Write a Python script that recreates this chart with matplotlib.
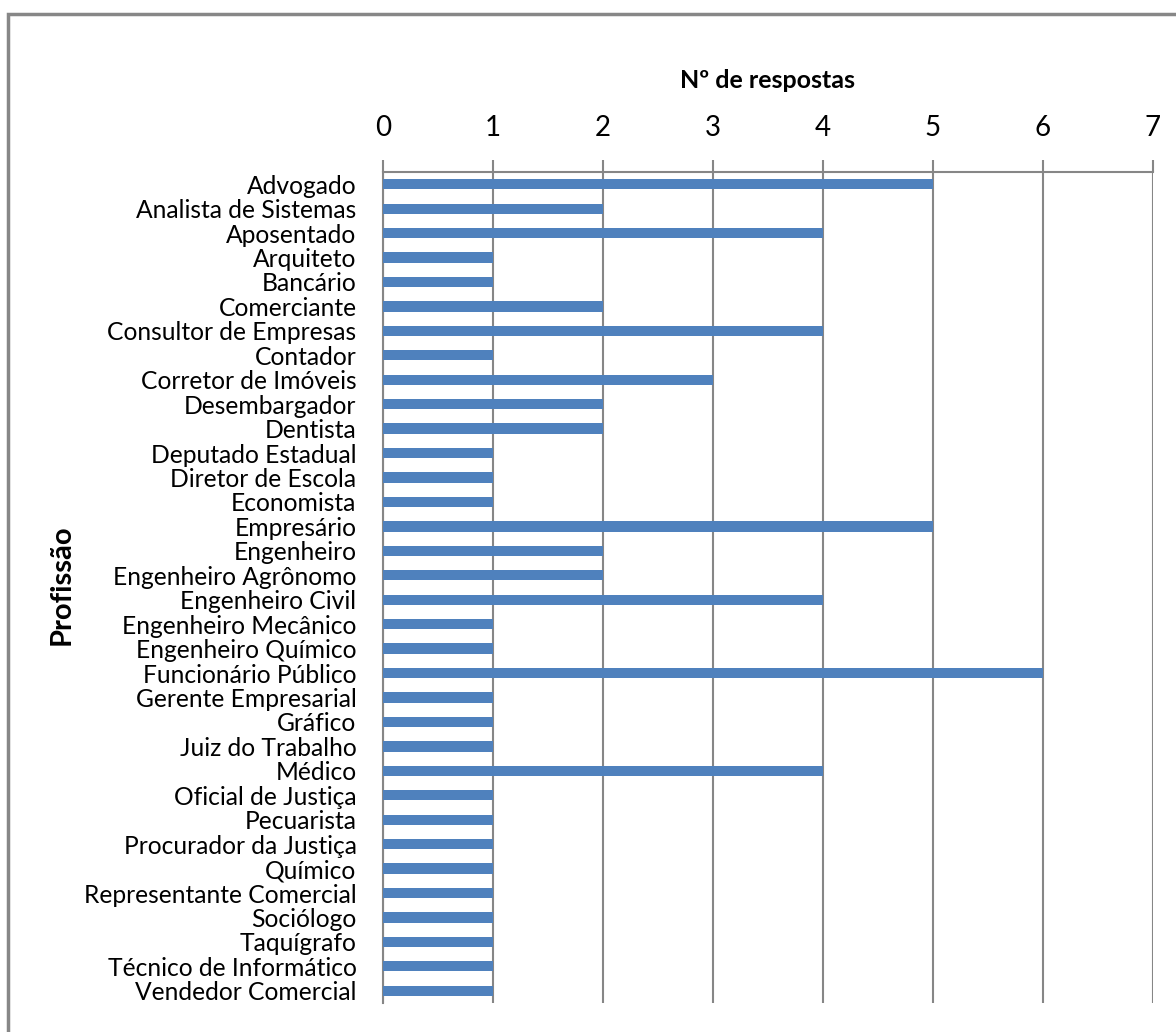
import matplotlib
matplotlib.use("Agg")
import matplotlib.pyplot as plt
from matplotlib.patches import Rectangle

categories = ["Advogado", "Analista de Sistemas", "Aposentado", "Arquiteto", "Bancário",
              "Comerciante", "Consultor de Empresas", "Contador", "Corretor de Imóveis",
              "Desembargador", "Dentista", "Deputado Estadual", "Diretor de Escola",
              "Economista", "Empresário", "Engenheiro", "Engenheiro Agrônomo",
              "Engenheiro Civil", "Engenheiro Mecânico", "Engenheiro Químico",
              "Funcionário Público", "Gerente Empresarial", "Gráfico", "Juiz do Trabalho",
              "Médico", "Oficial de Justiça", "Pecuarista", "Procurador da Justiça",
              "Químico", "Representante Comercial", "Sociólogo", "Taquígrafo",
              "Técnico de Informático", "Vendedor Comercial"]
values = [5, 2, 4, 1, 1, 2, 4, 1, 3, 2, 2, 1, 1, 1, 5, 2, 2, 4, 1, 1, 6, 1, 1, 1, 4,
          1, 1, 1, 1, 1, 1, 1, 1, 1]
xticks = [0, 1, 2, 3, 4, 5, 6, 7]

plt.rcParams['font.family'] = ["Lato", "DejaVu Sans"]
GRAY = "#868686"

fig = plt.figure(figsize=(11.76, 10.32), dpi=100)
ax = fig.add_axes([383/1176, 1 - 1003/1032, (1153-383)/1176, (1003-172)/1032])

y = list(range(len(categories)))
ax.barh(y, values, height=0.42, color="#4F81BD", zorder=3)
ax.set_ylim(len(categories) - 0.5, -0.5)
ax.set_xlim(0, 7)
ax.set_yticks(y)
ax.set_yticklabels(categories, fontsize=17.7)
ax.tick_params(axis='y', length=0, pad=19)
ax.xaxis.tick_top()
ax.set_xticks(xticks)
ax.set_xticklabels([str(t) for t in xticks], fontsize=20)
ax.tick_params(axis='x', length=9, width=1.5, color=GRAY, pad=13)
ax.xaxis.grid(True, color=GRAY, linewidth=1.5, zorder=0)
for s in ["right", "bottom"]:
    ax.spines[s].set_visible(False)
for s in ["top", "left"]:
    ax.spines[s].set_color(GRAY)
    ax.spines[s].set_linewidth(1.5)

fig.text(767/1176, 1 - 80/1032, "Nº de respostas", fontsize=18, fontweight='bold',
         ha='center', va='center')
fig.text(62/1176, 1 - 585/1032, "Profissão", rotation=90, fontsize=21, fontweight='bold',
         ha='center', va='center')

fig.patches.append(Rectangle((8/1176, -0.05), 1.2, 1 - 14/1032 + 0.05,
                             transform=fig.transFigure, fill=False,
                             edgecolor="#878787", linewidth=2.5))

fig.savefig("out.png", dpi=100, facecolor="white")
